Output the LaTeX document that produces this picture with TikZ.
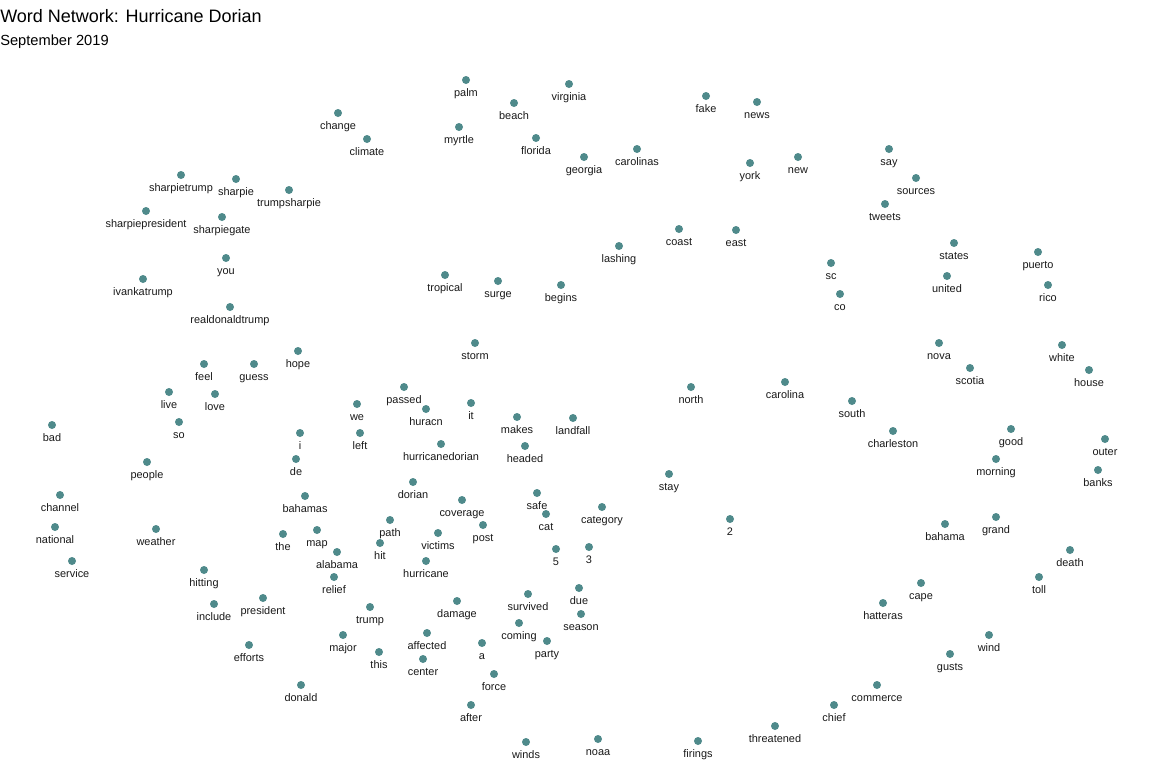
\documentclass[tikz,border=0pt]{standalone}
\usepackage{fontspec}
\setmainfont{Liberation Sans}
\definecolor{dotcol}{RGB}{79,138,139}
\tikzset{
  worddot/.style={circle,fill=dotcol,inner sep=0pt,minimum size=6pt},
  wordlabel/.style={anchor=base,inner sep=0pt,font=\fontsize{8.2pt}{9pt}\selectfont,text=black!90}
}
\begin{document}
\begin{tikzpicture}[x=0.75pt,y=-0.75pt]
\useasboundingbox (0,0) rectangle (1158,776);
\node[anchor=base west,inner sep=0pt,font=\fontsize{13.5pt}{15pt}\selectfont] (title) at (0,22) {Word Network: Hurricane Dorian};
\node[anchor=base west,inner sep=0pt,font=\fontsize{11pt}{13pt}\selectfont] (subtitle) at (0,45) {September 2019};
\foreach \w/\x/\y in {
palm/466/80, beach/514/103, virginia/569/84, myrtle/459/127, florida/536/138,
georgia/584/157, carolinas/637/149, fake/706/96, news/757/102, york/750/163,
new/798/157, say/889/149, sources/916/178, tweets/885/204, change/338/113,
climate/367/139, sharpietrump/181/175, sharpie/236/179, trumpsharpie/289/190,
sharpiepresident/146/211, sharpiegate/222/217, you/226/258, ivankatrump/143/279,
realdonaldtrump/230/307, coast/679/229, east/736/230, lashing/619/246,
tropical/445/275, surge/498/281, begins/561/285, sc/831/263, co/840/294,
states/954/243, united/947/276, puerto/1038/252, rico/1048/285, storm/475/343,
hope/298/351, feel/204/364, guess/254/364, live/169/392, love/215/394, so/179/422,
bad/52/425, people/147/462, nova/939/343, scotia/970/368, white/1062/345,
house/1089/370, north/691/387, carolina/785/382, south/852/401, charleston/893/431,
passed/404/387, we/357/404, huracn/426/409, it/471/403, makes/517/417,
landfall/573/418, i/300/433, left/360/433, hurricanedorian/441/444, headed/525/446,
de/296/459, good/1011/429, outer/1105/439, morning/996/459, banks/1098/470,
stay/669/474, dorian/413/482, bahamas/305/496, coverage/462/500, safe/537/493,
cat/546/514, category/602/507, post/483/525, path/390/520, channel/60/495,
national/55/527, service/72/561, weather/156/529, the/283/534, map/317/530,
victims/438/533, hit/380/543, alabama/337/552, 5/556/549, 3/589/547, 2/730/519,
bahama/945/524, grand/996/517, death/1070/550, toll/1039/577, hurricane/426/561,
hitting/204/570, relief/334/577, president/263/598, include/214/604, cape/921/583,
hatteras/883/603, damage/457/601, survived/528/594, due/579/588, season/581/614,
trump/370/607, coming/519/623, party/547/641, major/343/635, affected/427/633,
a/482/643, this/379/652, center/423/659, efforts/249/645, wind/989/635,
gusts/950/654, force/494/674, commerce/877/685, donald/301/685, after/471/705,
chief/834/705, threatened/775/726, winds/526/742, noaa/598/739, firings/698/741}
{
  \node[worddot] (d-\w) at (\x,\y) {};
  \node[wordlabel] (l-\w) at ([yshift=-16.5*0.75pt]d-\w.center) {\w};
}
\end{tikzpicture}
\end{document}
